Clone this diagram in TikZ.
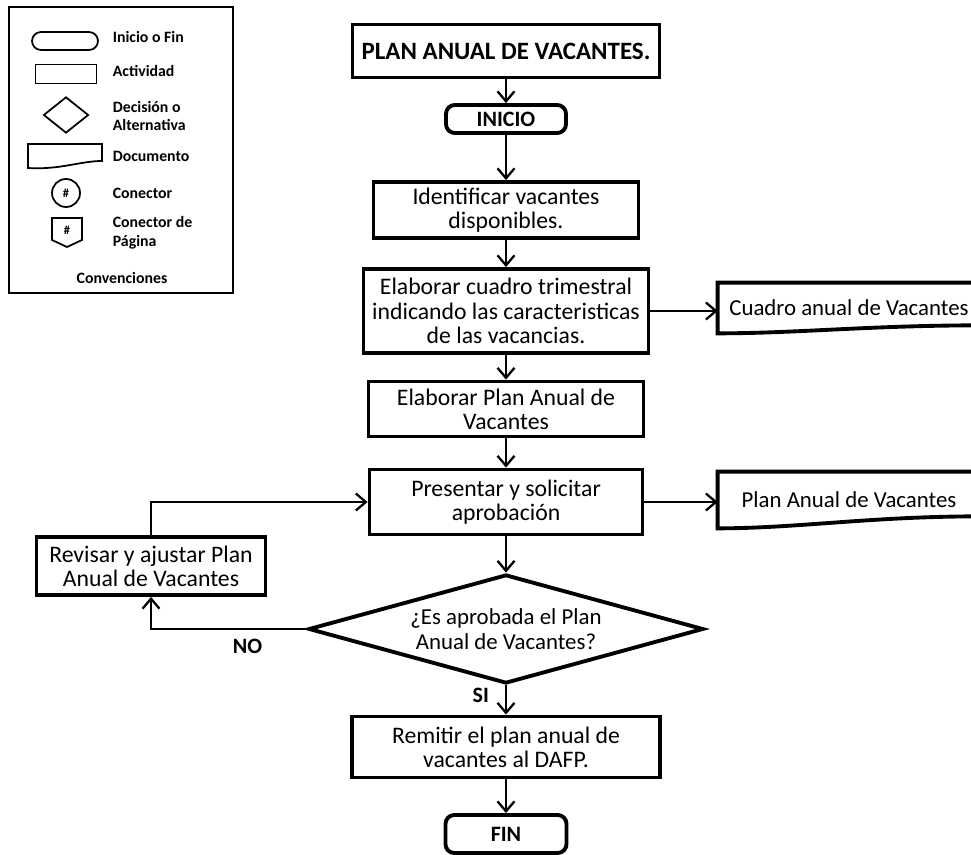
\documentclass[tikz,border=0pt]{standalone}
\usepackage{fontspec}
\setmainfont{Carlito}
\usepackage{tikz}
\usetikzlibrary{shapes.geometric,arrows.meta}

\begin{document}
\begin{tikzpicture}
            [x=0.02cm, y=-0.02cm,
            every node/.style={align=center, inner sep=2pt},
            caja/.style={draw, rectangle, line width=2.2pt, font=\fontsize{13.5}{13.8}\selectfont},
            terminal/.style={draw, rectangle, rounded corners=5pt, line width=2.2pt, font=\bfseries\fontsize{12.5}{14}\selectfont},
            decision/.style={draw, diamond, aspect=3.6, inner sep=0pt, line width=2.2pt, font=\fontsize{13}{14}\selectfont},
            documento/.style={rectangle, font=\fontsize{13}{14}\selectfont},
            flecha/.style={-{Straight Barb[length=2mm,width=3.4mm]}, line width=1.3pt},
            etiqueta/.style={font=\bfseries\fontsize{12.5}{14}\selectfont},
            leyenda/.style={anchor=west, align=left, font=\bfseries\fontsize{9}{10.5}\selectfont},
            figura/.style={draw, line width=1pt}]

            \useasboundingbox (0,0) rectangle (971,855);

            \draw[line width=1.5pt] (9,7) rectangle (233,293);
            \node[figura, rounded corners=0.18cm, minimum width=1.32cm, minimum height=0.36cm] (leyInicio) at (65,41) {};
            \node[leyenda] (txtInicio) at (109,37) {Inicio o Fin};
            \node[figura, minimum width=1.22cm, minimum height=0.38cm] (leyActividad) at (66,74) {};
            \node[leyenda] (txtActividad) at (109,71) {Actividad};
            \node[figura, diamond, aspect=1.25, minimum width=0.9cm, minimum height=0.72cm, inner sep=0pt] (leyDecision) at (66,115) {};
            \node[leyenda] (txtDecision) at (109,116) {Decisión o\\Alternativa};
            \draw[line width=1pt] (28,144) -- (102,144) -- (102,161) .. controls (80,161) and (60,170) .. (28,168) -- cycle;
            \node[leyenda] (txtDocumento) at (109,156) {Documento};
            \node[figura, circle, minimum size=0.56cm, inner sep=0pt, font=\bfseries\fontsize{7}{8}\selectfont] (leyConector) at (66,193) {\#};
            \node[leyenda] (txtConector) at (109,193) {Conector};
            \draw[line width=1pt] (52,218) -- (82,218) -- (82,240) -- (67,247) -- (52,240) -- cycle;
            \node[font=\bfseries\fontsize{7}{8}\selectfont] (leyPagina) at (67,230) {\#};
            \node[leyenda] (txtPagina) at (109,233) {Conector de\\Página};
            \node[font=\bfseries\fontsize{9}{10.5}\selectfont] (convenciones) at (122,278) {Convenciones};

            \node[caja, minimum width=6.14cm, minimum height=1.06cm, font=\bfseries\fontsize{14.2}{15}\selectfont] (titulo) at (506,51) {PLAN ANUAL DE VACANTES.};
            \node[terminal, minimum width=2.4cm, minimum height=0.56cm] (inicio) at (506,119) {INICIO};
            \node[caja, minimum width=5.3cm, minimum height=1.12cm] (identificar) at (506,210) {Identificar vacantes\\disponibles.};
            \node[caja, minimum width=5.7cm, minimum height=1.68cm] (cuadro) at (506,311) {Elaborar cuadro trimestral\\indicando las caracteristicas\\de las vacancias.};
            \node[caja, minimum width=5.5cm, minimum height=1.1cm] (elaborar) at (506,409) {Elaborar Plan Anual de\\Vacantes};
            \node[caja, minimum width=5.46cm, minimum height=1.3cm] (presentar) at (506,502) {Presentar y solicitar\\aprobación};
            \node[decision, minimum width=7.9cm, minimum height=2.18cm] (aprobada) at (506,629) {¿Es aprobada el Plan\\Anual de Vacantes?};
            \node[caja, minimum width=4.58cm, minimum height=1.16cm] (revisar) at (151,566) {Revisar y ajustar Plan\\Anual de Vacantes};
            \node[caja, minimum width=6.16cm, minimum height=1.22cm] (remitir) at (506,747) {Remitir el plan anual de\\vacantes al DAFP.};
            \node[terminal, minimum width=2.42cm, minimum height=0.76cm] (fin) at (506,834) {FIN};

            \node[documento, minimum width=5.24cm, minimum height=1cm] (cuadroDoc) at (849,308) {Cuadro anual de Vacantes};
            \draw[line width=2.2pt] (cuadroDoc.north west) -- (cuadroDoc.north east) -- ([yshift=0.16cm]cuadroDoc.south east) .. controls +(-2.2cm,0) and +(1.6cm,0) .. (cuadroDoc.south west) -- cycle;
            \node[documento, minimum width=5.24cm, minimum height=1.12cm] (planDoc) at (849,500) {Plan Anual de Vacantes};
            \draw[line width=2.2pt] (planDoc.north west) -- (planDoc.north east) -- ([yshift=0.24cm]planDoc.south east) .. controls +(-2.2cm,0) and +(1.6cm,0) .. (planDoc.south west) -- cycle;

            \draw[flecha] (titulo.south) -- (inicio.north);
            \draw[flecha] (inicio.south) -- (identificar.north);
            \draw[flecha] (identificar.south) -- (cuadro.north);
            \draw[flecha] (cuadro.south) -- (elaborar.north);
            \draw[flecha] (elaborar.south) -- (presentar.north);
            \draw[flecha] (presentar.south) -- (aprobada.north);
            \draw[flecha] (aprobada.south) -- node[etiqueta, pos=0.35, left=0.25cm] {SI} (remitir.north);
            \draw[flecha] (remitir.south) -- (fin.north);
            \draw[flecha] (aprobada.west) -| node[etiqueta, pos=0.19, below=0.1cm] {NO} (revisar.south);
            \draw[flecha] (revisar.north) |- (presentar.west);
            \draw[flecha] (cuadro.east) -- (cuadro.east -| cuadroDoc.west);
            \draw[flecha] (presentar.east) -- (presentar.east -| planDoc.west);
        \end{tikzpicture}
\end{document}
